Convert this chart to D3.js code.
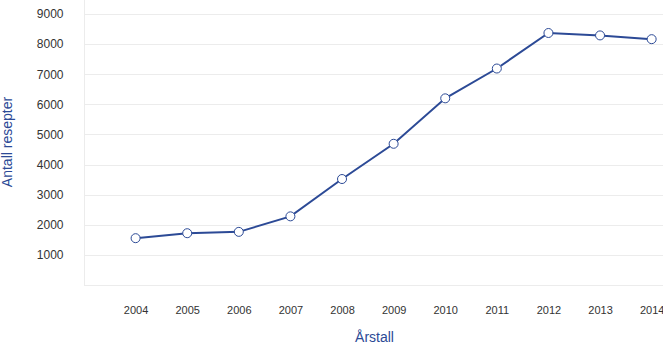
<!DOCTYPE html>
<html><head><meta charset="utf-8">
<script src="https://cdn.jsdelivr.net/npm/d3@7"></script>
<style>body{margin:0;background:#fff}svg{display:block}</style>
</head><body>
<svg id="c" width="663" height="345"></svg>
<script>
const years = [2004,2005,2006,2007,2008,2009,2010,2011,2012,2013,2014];
const values = [1555,1720,1765,2280,3520,4690,6200,7190,8370,8290,8165];
const yTicks = [1000,2000,3000,4000,5000,6000,7000,8000,9000];
const yTitle = "Antall resepter";
const xTitle = "Årstall";

const svg = d3.select("#c");
const L = 84, R = 663, T = 0, B = 285;
const x = d3.scaleLinear().domain([2003, 2014.22]).range([L, R]);
const y = d3.scaleLinear().domain([0, 9466]).range([B, T]);
const font = "Liberation Sans, Arial, sans-serif";
const blue = "#2c4a96";

// gridlines
svg.append("g").selectAll("line").data(yTicks).join("line")
  .attr("x1", L).attr("x2", R)
  .attr("y1", d => Math.round(y(d)) + 0.5).attr("y2", d => Math.round(y(d)) + 0.5)
  .attr("stroke", "#ececec").attr("stroke-width", 1);
// plot frame left and bottom
svg.append("line").attr("x1", L + 0.5).attr("x2", L + 0.5).attr("y1", 0).attr("y2", B)
  .attr("stroke", "#ececec");
svg.append("line").attr("x1", L).attr("x2", R).attr("y1", B + 0.5).attr("y2", B + 0.5)
  .attr("stroke", "#ececec");

// y axis labels
const yAxis = d3.axisLeft(y).tickValues(yTicks).tickSize(0).tickPadding(0).tickFormat(d3.format("d"));
const gy = svg.append("g").attr("transform", `translate(${63.5},0)`).call(yAxis);
gy.select(".domain").remove();
gy.selectAll("text").attr("font-family", font).attr("font-size", 12).attr("fill", "#333");

// x axis labels
const xAxis = d3.axisBottom(x).tickValues(years).tickSize(0).tickPadding(0).tickFormat(d3.format("d"));
const gx = svg.append("g").attr("transform", `translate(0,${306})`).call(xAxis);
gx.select(".domain").remove();
gx.selectAll("text").attr("font-family", font).attr("font-size", 11).attr("fill", "#333");

// titles
svg.append("text").attr("transform", `translate(12,${142}) rotate(-90)`)
  .attr("text-anchor", "middle").attr("font-family", font).attr("font-size", 14)
  .attr("fill", blue).text(yTitle);
svg.append("text").attr("x", 374.5).attr("y", 342)
  .attr("text-anchor", "middle").attr("font-family", font).attr("font-size", 14)
  .attr("fill", blue).text(xTitle);

const data = years.map((yr, i) => ({yr, v: values[i]}));
svg.append("path").datum(data)
  .attr("d", d3.line().x(d => x(d.yr)).y(d => y(d.v)))
  .attr("fill", "none").attr("stroke", blue).attr("stroke-width", 2);
svg.append("g").selectAll("circle").data(data).join("circle")
  .attr("cx", d => x(d.yr)).attr("cy", d => y(d.v)).attr("r", 4.5)
  .attr("fill", "#fff").attr("stroke", blue).attr("stroke-width", 1);
</script>
</body></html>
